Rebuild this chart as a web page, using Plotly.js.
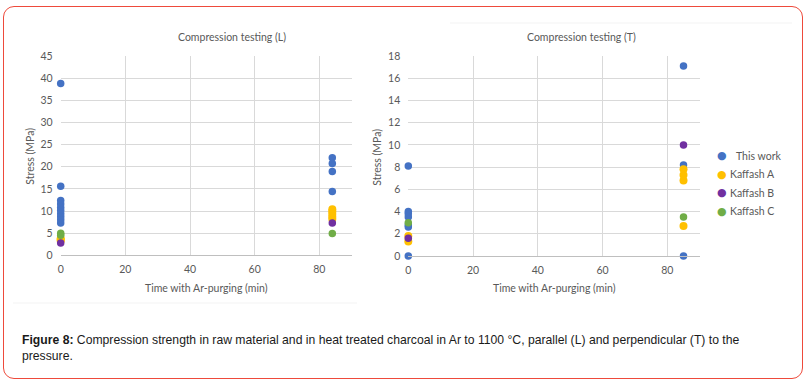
<!DOCTYPE html>
<html>
<head>
<meta charset="utf-8">
<script src="https://cdn.plot.ly/plotly-3.0.1.min.js"></script>
<style>
  html, body { margin: 0; padding: 0; background: #ffffff; }
  #wrap { position: relative; width: 812px; height: 385px; overflow: hidden; }
  #chart { position: absolute; left: 0; top: 0; width: 812px; height: 385px; }
  #frame { position: absolute; left: 3px; top: 6px; width: 798px; height: 371px;
           border: 1.5px solid #ee4a3b; border-radius: 11px; pointer-events: none; }
</style>
</head>
<body>
<div id="wrap">
  <div id="chart"></div>
  <div id="frame"></div>
</div>
<script>
// ---- Data ----
const seriesNames = ["This work", "Kaffash A", "Kaffash B", "Kaffash C"];
const seriesColors = ["#4472C4", "#FFC000", "#7030A0", "#70AD47"];

// Time with Ar-purging (min) for the two groups
const timeRawL = 0, timeTreatedL = 84;
const timeRawT = 0, timeTreatedT = 85;

// Compression testing (L) – stress (MPa)
const L_thisWork_raw     = [38.8, 15.6, 12.4, 11.6, 10.8, 10.1, 9.4, 8.7, 8.0, 7.3];
const L_thisWork_treated = [22.0, 20.7, 18.9, 14.4];
const L_kaffashA_raw     = [3.8, 3.5, 3.3];
const L_kaffashA_treated = [10.4, 9.9, 9.3, 8.7, 8.2];
const L_kaffashB_raw     = [2.8];
const L_kaffashB_treated = [7.3];
const L_kaffashC_raw     = [5.0, 4.5];
const L_kaffashC_treated = [4.9];

// Compression testing (T) – stress (MPa)
const T_thisWork_raw     = [8.1, 4.0, 3.8, 3.5, 2.8, 2.6, 0.0];
const T_thisWork_treated = [17.1, 8.2, 0.0];
const T_kaffashA_raw     = [1.8, 1.3];
const T_kaffashA_treated = [7.8, 7.3, 6.8, 2.7];
const T_kaffashB_raw     = [1.6];
const T_kaffashB_treated = [10.0];
const T_kaffashC_raw     = [3.0];
const T_kaffashC_treated = [3.5];

const xTickVals = [0, 20, 40, 60, 80];
const yTicksL = [0, 5, 10, 15, 20, 25, 30, 35, 40, 45];
const yTicksT = [0, 2, 4, 6, 8, 10, 12, 14, 16, 18];

const chartTitles = ["Compression testing (L)", "Compression testing (T)"];
const xTitle = "Time with Ar-purging (min)";
const yTitle = "Stress (MPa)";
const caption = "<b>Figure 8:</b> Compression strength in raw material and in heat treated charcoal in Ar to 1100 °C, parallel (L) and perpendicular (T) to the<br>pressure.";

// ---- Build traces ----
function group(rawT, rawVals, trtT, trtVals) {
  return {
    x: rawVals.map(() => rawT).concat(trtVals.map(() => trtT)),
    y: rawVals.concat(trtVals)
  };
}
const dataL = [
  group(timeRawL, L_thisWork_raw, timeTreatedL, L_thisWork_treated),
  group(timeRawL, L_kaffashA_raw, timeTreatedL, L_kaffashA_treated),
  group(timeRawL, L_kaffashB_raw, timeTreatedL, L_kaffashB_treated),
  group(timeRawL, L_kaffashC_raw, timeTreatedL, L_kaffashC_treated)
];
const dataT = [
  group(timeRawT, T_thisWork_raw, timeTreatedT, T_thisWork_treated),
  group(timeRawT, T_kaffashA_raw, timeTreatedT, T_kaffashA_treated),
  group(timeRawT, T_kaffashB_raw, timeTreatedT, T_kaffashB_treated),
  group(timeRawT, T_kaffashC_raw, timeTreatedT, T_kaffashC_treated)
];

const traces = [];
dataL.forEach((d, i) => traces.push({
  type: "scatter", mode: "markers", x: d.x, y: d.y, name: seriesNames[i],
  xaxis: "x", yaxis: "y", cliponaxis: false, showlegend: false,
  marker: { color: seriesColors[i], size: i === 1 ? 8 : 7.5, line: { width: 0 } }
}));
dataT.forEach((d, i) => traces.push({
  type: "scatter", mode: "markers", x: d.x, y: d.y, name: seriesNames[i],
  xaxis: "x2", yaxis: "y2", cliponaxis: false, showlegend: false,
  marker: { color: seriesColors[i], size: i === 1 ? 8 : 7.5, line: { width: 0 } }
}));

// ---- Layout ----
const W = 812, H = 385;
const px = v => v / W, py = v => 1 - v / H;
const tickFont = { family: "Lato, 'Open Sans', sans-serif", size: 10.5, color: "#595959" };
const titleFont = { family: "Lato, 'Open Sans', sans-serif", size: 10.5, color: "#595959" };
const gridC = "#d9d9d9";

const xBase = {
  range: [0, 90], tickvals: xTickVals, showgrid: true, gridcolor: gridC, gridwidth: 1,
  zeroline: false, showline: true, linecolor: "#bfbfbf", linewidth: 1,
  ticks: "", tickfont: tickFont, ticklabelstandoff: 4, fixedrange: true
};
const yBase = {
  showgrid: true, gridcolor: gridC, gridwidth: 1, zeroline: false, showline: false,
  ticks: "", tickfont: tickFont, ticklabelstandoff: 7, fixedrange: true
};

const layout = {
  width: W, height: H,
  margin: { l: 0, r: 0, t: 0, b: 0 },
  paper_bgcolor: "rgba(0,0,0,0)", plot_bgcolor: "rgba(0,0,0,0)",
  showlegend: false,
  xaxis: Object.assign({}, xBase, { domain: [px(60.7), px(351.7)], anchor: "y" }),
  yaxis: Object.assign({}, yBase, { domain: [py(255.3), py(56)], range: [0, 45], tickvals: yTicksL, anchor: "x" }),
  xaxis2: Object.assign({}, xBase, { domain: [px(408.3), px(699.7)], anchor: "y2" }),
  yaxis2: Object.assign({}, yBase, { domain: [py(256), py(56)], range: [0, 18], tickvals: yTicksT, anchor: "x2" }),
  shapes: [
    { type: "line", xref: "paper", yref: "paper", x0: px(13), x1: px(357), y0: py(303), y1: py(303),
      line: { color: "#f3f3f3", width: 1 } },
    { type: "line", xref: "paper", yref: "paper", x0: px(450), x1: px(792), y0: py(23), y1: py(23),
      line: { color: "#f3f3f3", width: 1 } }
  ],
  annotations: []
};

const A = layout.annotations;
// chart titles
A.push({ xref: "paper", yref: "paper", x: px(232), y: py(37.3), text: chartTitles[0], showarrow: false,
         xanchor: "center", yanchor: "middle", font: titleFont });
A.push({ xref: "paper", yref: "paper", x: px(581), y: py(37.3), text: chartTitles[1], showarrow: false,
         xanchor: "center", yanchor: "middle", font: titleFont });
// axis titles
A.push({ xref: "paper", yref: "paper", x: px(206.5), y: py(287.7), text: xTitle, showarrow: false,
         xanchor: "center", yanchor: "middle", font: titleFont });
A.push({ xref: "paper", yref: "paper", x: px(554), y: py(287.7), text: xTitle, showarrow: false,
         xanchor: "center", yanchor: "middle", font: titleFont });
A.push({ xref: "paper", yref: "paper", x: px(30), y: py(156.7), text: yTitle, showarrow: false, textangle: -90,
         xanchor: "center", yanchor: "middle", font: titleFont });
A.push({ xref: "paper", yref: "paper", x: px(376.7), y: py(157), text: yTitle, showarrow: false, textangle: -90,
         xanchor: "center", yanchor: "middle", font: titleFont });
// legend (custom)
const legY = [155.7, 174.3, 192.7, 211.3];
const legTextX = [734, 728, 728, 728];
seriesNames.forEach((n, i) => {
  A.push({ xref: "paper", yref: "paper", x: px(721.7), y: py(legY[i]), text: "●", showarrow: false,
           xanchor: "center", yanchor: "middle",
           font: { family: "DejaVu Sans", size: 11, color: seriesColors[i] } });
  A.push({ xref: "paper", yref: "paper", x: px(legTextX[i]), y: py(legY[i]), text: n, showarrow: false,
           xanchor: "left", yanchor: "middle", font: titleFont });
});
// caption
A.push({ xref: "paper", yref: "paper", x: px(20), y: py(330.5), text: caption, showarrow: false,
         xanchor: "left", yanchor: "top", align: "left",
         font: { family: "'Liberation Sans', Arial, sans-serif", size: 12.2, color: "#1a1a1a" } });

Plotly.newPlot("chart", traces, layout, { staticPlot: true, displayModeBar: false });
</script>
</body>
</html>
